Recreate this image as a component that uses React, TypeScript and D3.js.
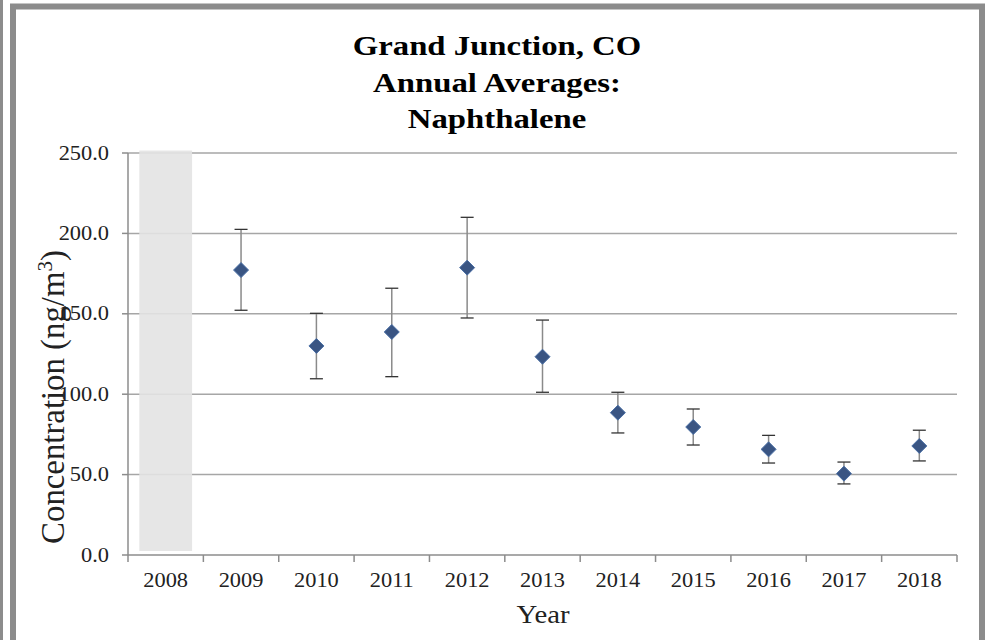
import * as d3 from 'd3';

const years = ['2008', '2009', '2010', '2011', '2012', '2013', '2014', '2015', '2016', '2017', '2018'];
// annual average naphthalene (ng/m3); 2008 has no average (shaded)
const averages = [null, 177.2, 130.0, 138.7, 178.7, 123.3, 88.5, 79.6, 65.7, 50.6, 67.8];
const upper = [null, 202.5, 150.3, 165.9, 210.0, 146.1, 101.2, 90.8, 74.4, 57.8, 77.6];
const lower = [null, 152.2, 109.6, 110.9, 147.4, 101.2, 75.9, 68.4, 57.2, 44.2, 58.5];
const shadedYears = ['2008'];
const yTicks = [0, 50, 100, 150, 200, 250];
const titleLines = ['Grand Junction, CO', 'Annual Averages:', 'Naphthalene'];

const W = 990;
const H = 640;
const margin = { top: 153, right: 33, bottom: 85, left: 128 };
const font = '"Liberation Serif", "Times New Roman", serif';

// the original picture is a bit wider than tall, so the text is stretched sideways
const Label = ({ x, y, size, anchor = 'middle', sx = 1.14, bold = false, children }: any) => (
  <g transform={`translate(${x},${y}) scale(${sx},1)`}>
    <text textAnchor={anchor} fontFamily={font} fontSize={size} fontWeight={bold ? 'bold' : 'normal'}
      fill={bold ? '#000' : '#222'}>
      {children}
    </text>
  </g>
);

const App = () => {
  const x = d3.scaleBand().domain(years).range([margin.left, W - margin.right]);
  const y = d3.scaleLinear().domain([0, 250]).range([H - margin.bottom, margin.top]);
  const bw = x.bandwidth();
  const cx = (yr: string) => (x(yr) as number) + bw / 2;
  const capW = 6.5;
  const dia = 7.5;

  const points = years
    .map((yr, i) => ({ yr, v: averages[i], hi: upper[i], lo: lower[i] }))
    .filter((d) => d.v != null) as { yr: string; v: number; hi: number; lo: number }[];

  return (
    <svg width={W} height={H} style={{ position: 'absolute', left: 0, top: 0, background: '#fff' }}>
      {/* left strip and frame */}
      <rect x={0} y={0} width={3} height={H} fill="#8c8c8c" />
      <rect x={13} y={6.5} width={969} height={H + 10} fill="#fff" stroke="#8c8c8c" strokeWidth={6} />

      {/* title */}
      {titleLines.map((t, i) => (
        <Label key={t} x={497} y={55 + i * 36.6} size={28} sx={1.17} bold>{t}</Label>
      ))}

      {/* gridlines */}
      {yTicks.filter((t) => t > 0).map((t) => (
        <line key={t} x1={margin.left} x2={W - margin.right} y1={y(t)} y2={y(t)} stroke="#a6a6a6" strokeWidth={1.5} />
      ))}

      {/* shaded year */}
      {shadedYears.map((yr) => (
        <rect key={yr} x={(x(yr) as number) + bw * 0.15} y={y(250) - 2.5} width={bw * 0.7}
          height={y(0) - y(250) - 1.5} fill="#e3e3e3" fillOpacity={0.9} />
      ))}

      {/* axes */}
      <line x1={margin.left} x2={margin.left} y1={y(250)} y2={y(0)} stroke="#8c8c8c" strokeWidth={1.5} />
      <line x1={margin.left} x2={W - margin.right} y1={y(0)} y2={y(0)} stroke="#8c8c8c" strokeWidth={1.5} />
      {yTicks.map((t) => (
        <g key={t}>
          <line x1={margin.left - 6} x2={margin.left} y1={y(t)} y2={y(t)} stroke="#8c8c8c" strokeWidth={1.5} />
          <Label x={109} y={y(t) + 6.6} size={20} anchor="end" sx={1.12}>{t.toFixed(1)}</Label>
        </g>
      ))}
      {[...years.map((yr) => x(yr) as number), W - margin.right].map((px, i) => (
        <line key={i} x1={px} x2={px} y1={y(0)} y2={y(0) + 7} stroke="#8c8c8c" strokeWidth={1.5} />
      ))}
      {years.map((yr) => (
        <Label key={yr} x={cx(yr)} y={587} size={20} sx={1.12}>{yr}</Label>
      ))}

      {/* axis titles */}
      <Label x={543} y={623} size={25} sx={1.15}>Year</Label>
      <text transform={`translate(64,397) rotate(-90)`} textAnchor="middle" fontFamily={font} fontSize={32.8} fill="#222">
        Concentration (ng/m<tspan dy={-12} fontSize={21}>3</tspan><tspan dy={12}>)</tspan>
      </text>

      {/* error bars + diamonds */}
      {points.map((d) => {
        const px = cx(d.yr);
        return (
          <g key={d.yr}>
            <line x1={px} x2={px} y1={y(d.hi)} y2={y(d.lo)} stroke="#8a8a8a" strokeWidth={1.5} />
            <line x1={px - capW} x2={px + capW} y1={y(d.hi)} y2={y(d.hi)} stroke="#333" strokeWidth={1.3} />
            <line x1={px - capW} x2={px + capW} y1={y(d.lo)} y2={y(d.lo)} stroke="#333" strokeWidth={1.3} />
            <path d={`M${px},${y(d.v) - dia}L${px + dia},${y(d.v)}L${px},${y(d.v) + dia}L${px - dia},${y(d.v)}Z`}
              fill="#3a5583" stroke="#4a6fa5" strokeWidth={1} />
          </g>
        );
      })}
    </svg>
  );
};

export default App;
